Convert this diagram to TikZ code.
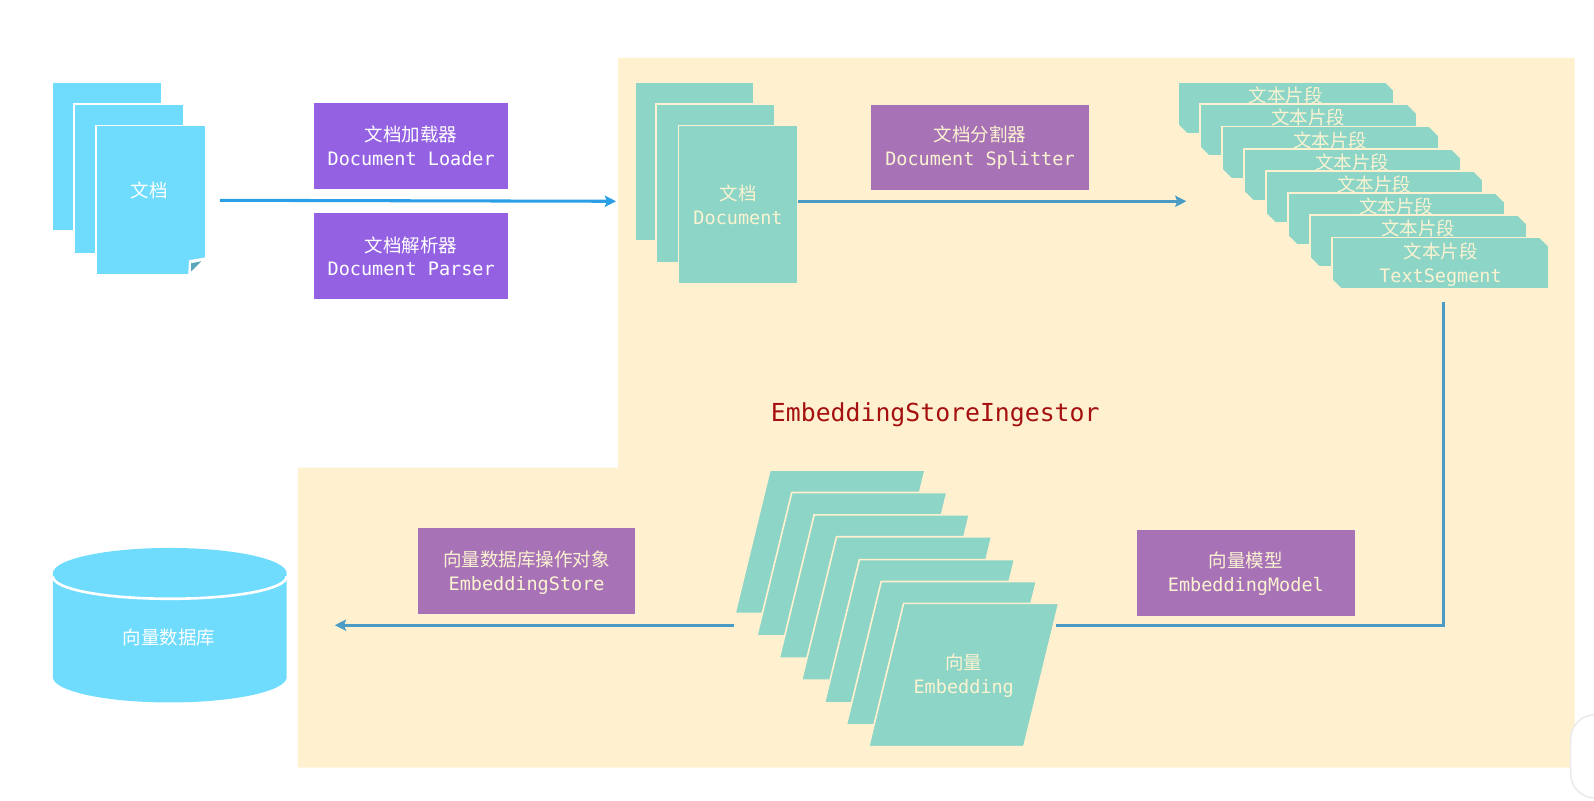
\documentclass[tikz,border=0pt]{standalone}
\usepackage{fontspec}
\usepackage{xcolor}
\usepackage{tikz}
\usetikzlibrary{shapes.geometric,arrows.meta}
\setmainfont{Noto Sans CJK SC}
\setmonofont{DejaVu Sans Mono}
\definecolor{regionyellow}{HTML}{FFF1CF}
\definecolor{docblue}{HTML}{6FDCFE}
\definecolor{boxpurple}{HTML}{9461E3}
\definecolor{boxmauve}{HTML}{A873B6}
\definecolor{segteal}{HTML}{8DD5C6}
\definecolor{paletext}{HTML}{FBF3D2}
\definecolor{arrowblue}{HTML}{2A9FE6}
\definecolor{arrowdull}{HTML}{4A9CC4}
\definecolor{foldteal}{HTML}{5BA8B8}
\definecolor{titlered}{HTML}{A51010}
\tikzset{
  labeltext/.style={align=center,font=\fontsize{9.1}{11.5}\selectfont},
  bluedoc/.style={rectangle,fill=docblue,draw=white,line width=0.8pt,minimum width=54pt,minimum height=73.5pt,inner sep=0pt},
  tealdoc/.style={rectangle,fill=segteal,draw=regionyellow,line width=0.8pt,minimum width=58.5pt,minimum height=78pt,inner sep=0pt,text=paletext,labeltext},
  purplebox/.style={rectangle,fill=boxpurple,minimum width=95.5pt,minimum height=42.5pt,inner sep=0pt,text=white,labeltext},
  mauvebox/.style={rectangle,fill=boxmauve,minimum width=107pt,minimum height=42.2pt,inner sep=0pt},
  segbox/.style={rectangle,fill=segteal,draw=regionyellow,line width=0.8pt,minimum width=106.5pt,minimum height=25.5pt,inner sep=0pt,
    path picture={
      \fill[regionyellow] (path picture bounding box.north east) -- ++(-4.8pt,0) -- ++(4.8pt,-4.8pt) -- cycle;
      \fill[regionyellow] (path picture bounding box.south west) -- ++(5pt,0) -- ++(-5pt,5pt) -- cycle;
    }},
  seglabel/.style={anchor=north,yshift=-2.6pt,inner sep=0pt,text=paletext,labeltext},
  palelabel/.style={inner sep=0pt,text=paletext,labeltext},
  embedbox/.style={trapezium,trapezium left angle=76.3,trapezium right angle=103.7,trapezium stretches body=true,fill=segteal,draw=regionyellow,line width=0.8pt,minimum width=93.5pt,text height=70.5pt,text depth=0pt,inner sep=0pt},
  whitelabel/.style={inner sep=0pt,text=white,labeltext},
  mainline/.style={arrowblue,line width=1.5pt,-{Stealth[length=5.5pt,width=5.5pt,inset=1pt]}},
  flowline/.style={arrowdull,line width=1.5pt},
  flowtip/.style={-{Stealth[length=5.5pt,width=5.5pt,inset=1pt]}},
}
\begin{document}
\begin{tikzpicture}[x=0.5pt,y=-0.5pt]
  \useasboundingbox (0,0) rectangle (1568,787);
  \fill[regionyellow] (608,57) -- (1549,57) -- (1549,755) -- (293,755) -- (293,460) -- (608,460) -- cycle;
  \draw[fill=white,draw=black!8,line width=0.8pt,rounded corners=12pt] (1568,703) -- (1545,703) -- (1545,785) -- (1568,785);

  \node[bluedoc] (doc1) at (105,154) {};
  \node[bluedoc] (doc2) at (126.5,176) {};
  \node[bluedoc] (doc3) at (148.5,197) {};
  \fill[white] (203,253) -- (203,272) -- (185,272) -- (186,256) -- cycle;
  \fill[foldteal] (188,259) -- (198,257) -- (188,267) -- cycle;
  \node[whitelabel] (doclabel) at (147,187) {文档};

  \node[purplebox] (loader) at (404.5,143.5) {文档加载器\\\ttfamily Document Loader};
  \node[purplebox] (parser) at (404.5,252) {文档解析器\\\ttfamily Document Parser};
  \coordinate (regionin) at (606,198);
  \draw[mainline,shorten <=6.5pt] (doc3.east) -- (regionin);

  \node[tealdoc] (tdoc1) at (683,159) {};
  \node[tealdoc] (tdoc2) at (704,180.5) {};
  \node[tealdoc] (tdoc3) at (726,201.5) {文档\\\ttfamily Document};

  \node[mauvebox] (splitter) at (964,145) {};
  \node[palelabel] (splitterlabel) at (964,145) {文档分割器\\\ttfamily Document Splitter};
  \coordinate (segin) at (1167,198);
  \draw[flowline,flowtip] (tdoc3.east |- segin) -- (segin);

  \node[segbox] (seg1) at (1265,106) {};
  \node[seglabel] (seglabel1) at (seg1.north) {文本片段};
  \node[segbox] (seg2) at (1286.7,128) {};
  \node[seglabel] (seglabel2) at (seg2.north) {文本片段};
  \node[segbox] (seg3) at (1308.4,150) {};
  \node[seglabel] (seglabel3) at (seg3.north) {文本片段};
  \node[segbox] (seg4) at (1330.1,172) {};
  \node[seglabel] (seglabel4) at (seg4.north) {文本片段};
  \node[segbox] (seg5) at (1351.8,193.5) {};
  \node[seglabel] (seglabel5) at (seg5.north) {文本片段};
  \node[segbox] (seg6) at (1373.5,215.5) {};
  \node[seglabel] (seglabel6) at (seg6.north) {文本片段};
  \node[segbox] (seg7) at (1395.2,237) {};
  \node[seglabel] (seglabel7) at (seg7.north) {文本片段};
  \node[segbox] (seg8) at (1417,259) {};
  \node[palelabel] (seglabel8) at (1417,260.5) {文本片段\\\ttfamily TextSegment};

  \node[font=\ttfamily\fontsize{12.2}{14}\selectfont,text=titlered] (ingestor) at (920,408) {EmbeddingStoreIngestor};

  \node[embedbox] (embed1) at (816.5,533) {};
  \node[embedbox] (embed2) at (838,555) {};
  \node[embedbox] (embed3) at (860,577) {};
  \node[embedbox] (embed4) at (882,598.5) {};
  \node[embedbox] (embed5) at (904.5,621) {};
  \node[embedbox] (embed6) at (926,642.5) {};
  \node[embedbox] (embed7) at (948,664) {};
  \node[palelabel] (embedlabel) at (948,664.5) {向量\\\ttfamily Embedding};

  \node[mauvebox] (model) at (1225.5,563.5) {};
  \node[palelabel] (modellabel) at (1225.5,564.5) {向量模型\\\ttfamily EmbeddingModel};
  \coordinate (modelbend) at (1420,615);
  \coordinate (embedright) at (1039,615);
  \draw[flowline,shorten <=6pt] (seg8.south -| modelbend) -- (modelbend) -- (embedright);

  \node[mauvebox] (store) at (518,562) {};
  \node[palelabel] (storelabel) at (518,563.5) {向量数据库操作对象\\\ttfamily EmbeddingStore};

  \node[minimum width=115pt,minimum height=76pt,inner sep=0pt] (db) at (167,615) {};
  \fill[docblue] (52,564) .. controls (52,550.2) and (103.5,539) .. (167,539) .. controls (230.5,539) and (282,550.2) .. (282,564)
    -- (282,666) .. controls (282,679.8) and (230.5,691) .. (167,691) .. controls (103.5,691) and (52,679.8) .. (52,666) -- cycle;
  \draw[white,line width=1.3pt] (52,567) .. controls (52,579.7) and (103.5,589) .. (167,589) .. controls (230.5,589) and (282,579.7) .. (282,567);
  \node[whitelabel] (dblabel) at (166,627) {向量数据库};

  \coordinate (embedleft) at (722,615);
  \draw[flowline,flowtip,shorten >=23.5pt] (embedleft) -- (db.east);
\end{tikzpicture}
\end{document}
